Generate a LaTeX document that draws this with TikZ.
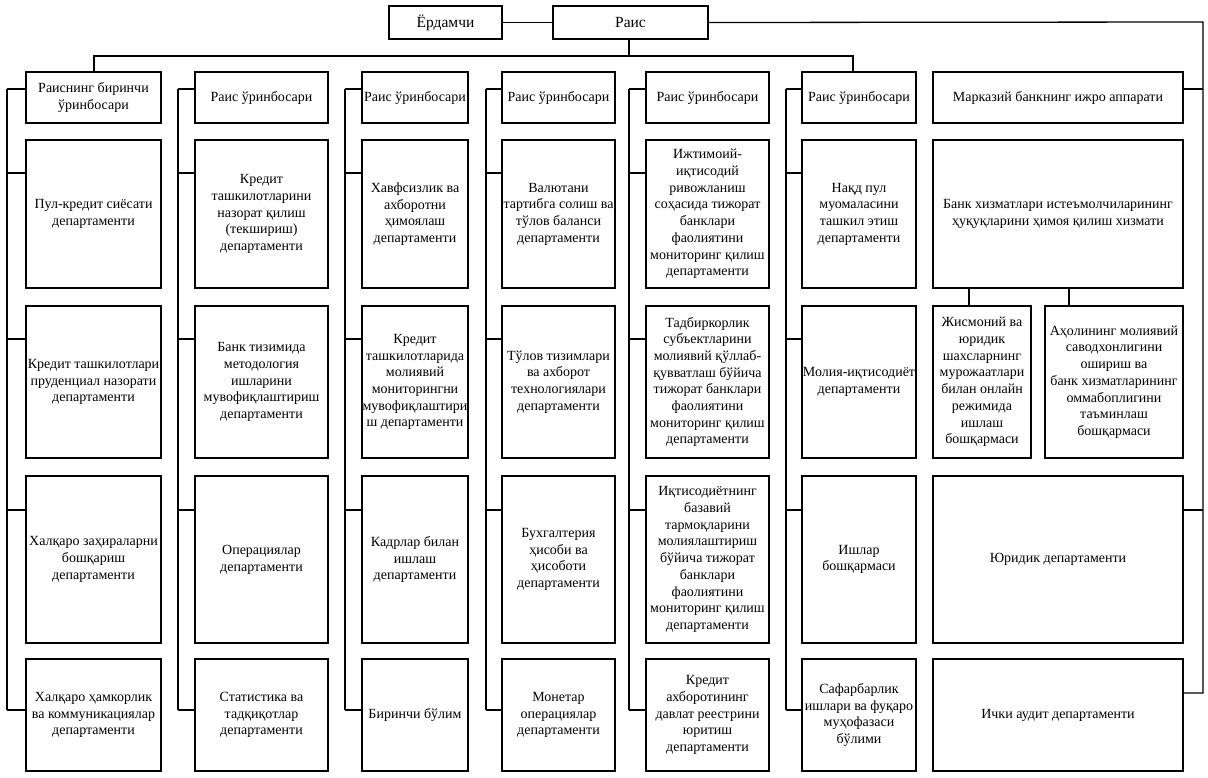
\documentclass[tikz,border=0pt]{standalone}
\usepackage{fontspec}
\setmainfont{Liberation Serif}
\newcommand{\bx}[6]{\node[box, minimum width={(#4)-(#2)}, minimum height={(#5)-(#3)}] (#1) at ({((#2)+(#4))/2},{((#3)+(#5))/2}) {#6};}
\begin{document}
\begin{tikzpicture}[x=1pt,y=-1pt,
  box/.style={draw=black, line width=1.2pt, fill=white, inner sep=0pt, outer sep=0pt, align=center, font=\fontsize{14}{16.7}\selectfont},
  conn/.style={draw=black, line width=1.3pt}]
\useasboundingbox (0,0) rectangle (1208,777);
% top
\bx{erd}{389}{6}{502}{39}{\fontsize{15.5}{18}\selectfont Ёрдамчи}
\bx{rais}{553}{6}{708}{39}{\fontsize{15.5}{18}\selectfont Раис}
% headers
\bx{h1}{26}{72}{161}{123}{Раиснинг биринчи\\ ўринбосари}
\bx{h2}{195}{72}{328}{123}{Раис ўринбосари}
\bx{h3}{362}{72}{468}{123}{Раис ўринбосари}
\bx{h4}{502}{72}{615}{123}{Раис ўринбосари}
\bx{h5}{646}{72}{769}{123}{Раис ўринбосари}
\bx{h6}{802}{72}{916}{123}{Раис ўринбосари}
\bx{h7}{933}{72}{1183}{123}{Марказий банкнинг ижро аппарати}
% column 1
\bx{a1}{26}{140}{161}{288}{Пул-кредит сиёсати\\ департаменти}
\bx{a2}{26}{306}{161}{458}{Кредит ташкилотлари\\ пруденциал назорати\\ департаменти}
\bx{a3}{26}{476}{161}{643}{Халқаро заҳираларни\\ бошқариш\\ департаменти}
\bx{a4}{26}{659}{161}{771}{Халқаро ҳамкорлик\\ ва коммуникациялар\\ департаменти}
% column 2
\bx{b1}{195}{140}{328}{288}{Кредит\\ ташкилотларини\\ назорат қилиш\\ (текшириш)\\ департаменти}
\bx{b2}{195}{306}{328}{458}{Банк тизимида\\ методология\\ ишларини\\ мувофиқлаштириш\\ департаменти}
\bx{b3}{195}{476}{328}{643}{Операциялар\\ департаменти}
\bx{b4}{195}{659}{328}{771}{Статистика ва\\ тадқиқотлар\\ департаменти}
% column 3
\bx{c1}{362}{140}{468}{288}{Хавфсизлик ва\\ ахборотни\\ ҳимоялаш\\ департаменти}
\bx{c2}{362}{306}{468}{458}{Кредит\\ ташкилотларида\\ молиявий\\ мониторингни\\ мувофиқлаштири\\ ш департаменти}
\bx{c3}{362}{476}{468}{643}{Кадрлар билан\\ ишлаш\\ департаменти}
\bx{c4}{362}{659}{468}{771}{Биринчи бўлим}
% column 4
\bx{d1}{502}{140}{615}{288}{Валютани\\ тартибга солиш ва\\ тўлов баланси\\ департаменти}
\bx{d2}{502}{306}{615}{458}{Тўлов тизимлари\\ ва ахборот\\ технологиялари\\ департаменти}
\bx{d3}{502}{476}{615}{643}{Бухгалтерия\\ ҳисоби ва\\ ҳисоботи\\ департаменти}
\bx{d4}{502}{659}{615}{771}{Монетар\\ операциялар\\ департаменти}
% column 5
\bx{e1}{646}{140}{769}{288}{Ижтимоий-\\ иқтисодий\\ ривожланиш\\ соҳасида тижорат\\ банклари\\ фаолиятини\\ мониторинг қилиш\\ департаменти}
\bx{e2}{646}{306}{769}{458}{Тадбиркорлик\\ субъектларини\\ молиявий қўллаб-\\ қувватлаш бўйича\\ тижорат банклари\\ фаолиятини\\ мониторинг қилиш\\ департаменти}
\bx{e3}{646}{476}{769}{643}{Иқтисодиётнинг\\ базавий\\ тармоқларини\\ молиялаштириш\\ бўйича тижорат\\ банклари\\ фаолиятини\\ мониторинг қилиш\\ департаменти}
\bx{e4}{646}{659}{769}{771}{Кредит\\ ахборотининг\\ давлат реестрини\\ юритиш\\ департаменти}
% column 6
\bx{f1}{802}{140}{916}{288}{Нақд пул\\ муомаласини\\ ташкил этиш\\ департаменти}
\bx{f2}{802}{306}{916}{458}{Молия-иқтисодиёт\\ департаменти}
\bx{f3}{802}{476}{916}{643}{Ишлар\\ бошқармаси}
\bx{f4}{802}{659}{916}{771}{Сафарбарлик\\ ишлари ва фуқаро\\ муҳофазаси\\ бўлими}
% column 7
\bx{g1}{933}{140}{1183}{288}{Банк хизматлари истеъмолчиларининг\\ ҳуқуқларини ҳимоя қилиш хизмати}
\bx{g2a}{933}{306}{1031}{458}{Жисмоний ва\\ юридик\\ шахсларнинг\\ мурожаатлари\\ билан онлайн\\ режимида\\ ишлаш\\ бошқармаси}
\bx{g2b}{1045}{306}{1183}{458}{Аҳолининг молиявий\\ саводхонлигини\\ ошириш ва\\ банк хизматларининг\\ оммабоплигини\\ таъминлаш\\ бошқармаси}
\bx{g3}{933}{476}{1183}{643}{Юридик департаменти}
\bx{g4}{933}{659}{1183}{771}{Ички аудит департаменти}
% free coordinates
\coordinate (bus) at (629,56);
\coordinate (right) at (1203,22);
% top connectors
\draw[conn] (erd.east) -- (rais.west);
\draw[conn] (bus |- rais.south) -- (bus);
\draw[conn] (h1.north -| 94,0) |- (bus) -| (h6.north -| 853,0);
\draw[conn] (rais.east) -- (right) -- (1203,693) -- (g4.east |- 0,693);
\draw[conn] (1203,89) -- (h7.east |- 0,89);
\draw[conn] (1203,510) -- (g3.east |- 0,510);
\draw[conn] (g1.south -| 969,0) -- (g2a.north -| 969,0);
\draw[conn] (g1.south -| 1069,0) -- (g2b.north -| 1069,0);
% column lines
\foreach \lx in {7,178,345,486,629,786}{
  \draw[conn] (\lx,710) -- (\lx,89);
}
\foreach \lx/\h/\c in {7/h1/a,178/h2/b,345/h3/c,486/h4/d,629/h5/e,786/h6/f}{
  \draw[conn] (\lx,89) -- (\h.west |- 0,89);
  \draw[conn] (\lx,173) -- (\c1.west |- 0,173);
  \draw[conn] (\lx,339) -- (\c2.west |- 0,339);
  \draw[conn] (\lx,510) -- (\c3.west |- 0,510);
  \draw[conn] (\lx,710) -- (\c4.west |- 0,710);
}
\end{tikzpicture}
\end{document}
